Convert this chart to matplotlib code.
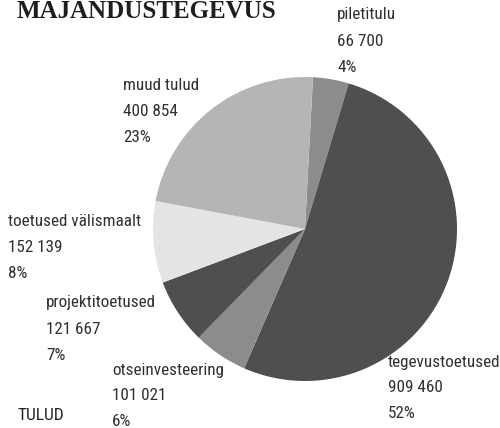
import matplotlib
matplotlib.use("Agg")
import matplotlib.pyplot as plt

# data (clockwise from the top)
labels = ["piletitulu", "tegevustoetused", "otseinvesteering",
          "projektitoetused", "toetused välismaalt", "muud tulud"]
amounts = ["66 700", "909 460", "101 021", "121 667", "152 139", "400 854"]
values = [66700, 909460, 101021, 121667, 152139, 400854]
percents = ["4%", "52%", "6%", "7%", "8%", "23%"]
colors = ["#8c8c8c", "#4f4f4f", "#8c8c8c", "#4f4f4f", "#e4e4e4", "#b5b5b5"]

# label anchor (left x, first line y) in pixels
label_pos = [(337, 15), (388, 362), (112, 370), (46, 303), (8, 222), (123, 86)]
line_gap = 26

W, H = 500, 428
fig = plt.figure(figsize=(W / 100, H / 100), dpi=100)

cx, cy, r = 305, 229, 152
ax = fig.add_axes([(cx - r) / W, 1 - (cy + r) / H, 2 * r / W, 2 * r / H])
ax.pie(values, colors=colors, startangle=87, counterclock=False,
       wedgeprops=dict(linewidth=0))
ax.set_xlim(-1, 1)
ax.set_ylim(-1, 1)
ax.set_aspect("equal")
ax.axis("off")

font = ["Roboto Condensed", "Open Sans Condensed", "DejaVu Sans Condensed",
        "Liberation Sans"]
for (x, y), lab, amt, pct in zip(label_pos, labels, amounts, percents):
    for k, s in enumerate([lab, amt, pct]):
        fig.text(x / W, 1 - (y + k * line_gap) / H, s, family=font,
                 fontsize=12.3, color="#303030", ha="left", va="center")

fig.text(17 / W, 1 - 11 / H, "MAJANDUSTEGEVUS", family=["Liberation Serif", "DejaVu Serif"],
         fontweight="bold", fontsize=18, color="#1e1e1e", ha="left", va="center")
fig.text(17 / W, 1 - 415 / H, "TULUD", family=font, fontsize=12.5,
         color="#222222", ha="left", va="center")

fig.savefig("out.png", dpi=100)
